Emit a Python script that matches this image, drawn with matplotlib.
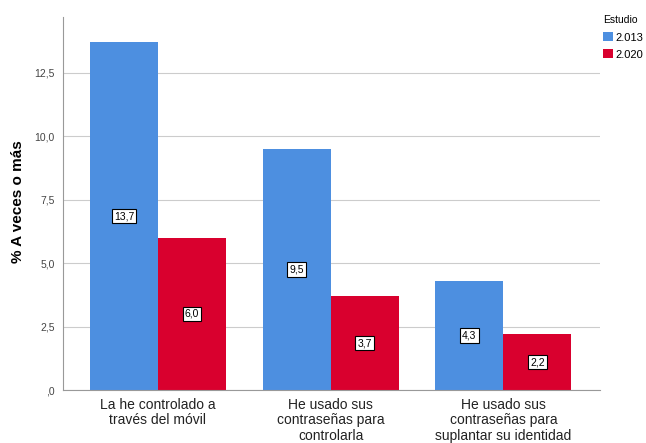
import numpy as np
import matplotlib
matplotlib.use("Agg")
import matplotlib.pyplot as plt

plt.rcParams['font.family'] = ['Liberation Sans', 'DejaVu Sans']

# --- DATI ---
categorias = ['La he controlado a\ntravés del móvil',
              'He usado sus\ncontraseñas para\ncontrolarla',
              'He usado sus\ncontraseñas para\nsuplantar su identidad']
estudios = ['2.013', '2.020']
valores_2013 = [13.7, 9.5, 4.3]
valores_2020 = [6.0, 3.7, 2.2]
yticks = [0, 2.5, 5.0, 7.5, 10.0, 12.5]
ytick_labels = [',0', '2,5', '5,0', '7,5', '10,0', '12,5']

col_azul = '#4d8fe0'
col_rojo = '#d9002e'

fig = plt.figure(figsize=(6.46, 4.43), dpi=100)
ax = fig.add_axes([0.0975, 0.1196, 0.8315, 0.842])

x = np.arange(len(categorias))
w = 0.394
b1 = ax.bar(x - w/2, valores_2013, w, color=col_azul, label=estudios[0], zorder=2)
b2 = ax.bar(x + w/2, valores_2020, w, color=col_rojo, label=estudios[1], zorder=2)

# etichette valore al centro delle barre
for barre, vals in [(b1, valores_2013), (b2, valores_2020)]:
  for r, v in zip(barre, vals):
    ax.text(r.get_x() + r.get_width()/2, v/2, f'{v:.1f}'.replace('.', ','),
            ha='center', va='center', fontsize=7.5, zorder=3,
            bbox=dict(boxstyle='square,pad=0.2', fc='white', ec='black', lw=0.8))

ax.set_xlim(-0.55, 2.56)
ax.set_ylim(0, 14.7)
ax.set_yticks(yticks)
ax.set_yticklabels(ytick_labels, fontsize=7.5, color='#444444')
ax.set_xticks(x)
ax.set_xticklabels(categorias, fontsize=10, linespacing=1.1, color='#222222')
ax.tick_params(axis='x', length=0, pad=6)
ax.tick_params(axis='y', length=0, pad=6)
ax.yaxis.grid(True, color='#cccccc', lw=0.8, zorder=0)
for s in ['top', 'right']:
  ax.spines[s].set_visible(False)
ax.spines['left'].set_color('#999999')
ax.spines['bottom'].set_color('#999999')
ax.set_ylabel('% A veces o más', fontsize=11, fontweight='bold')
ax.yaxis.set_label_coords(-0.0708, 0.504)

leg = ax.legend(title='Estudio', loc='upper left', bbox_to_anchor=(0.995, 1.019),
                frameon=False, fontsize=8, title_fontsize=7.5,
                handlelength=0.9, handleheight=0.9, handletextpad=0.2,
                labelspacing=0.6, borderaxespad=0.1)
leg._legend_box.align = 'left'

plt.savefig('out.png', dpi=100)
